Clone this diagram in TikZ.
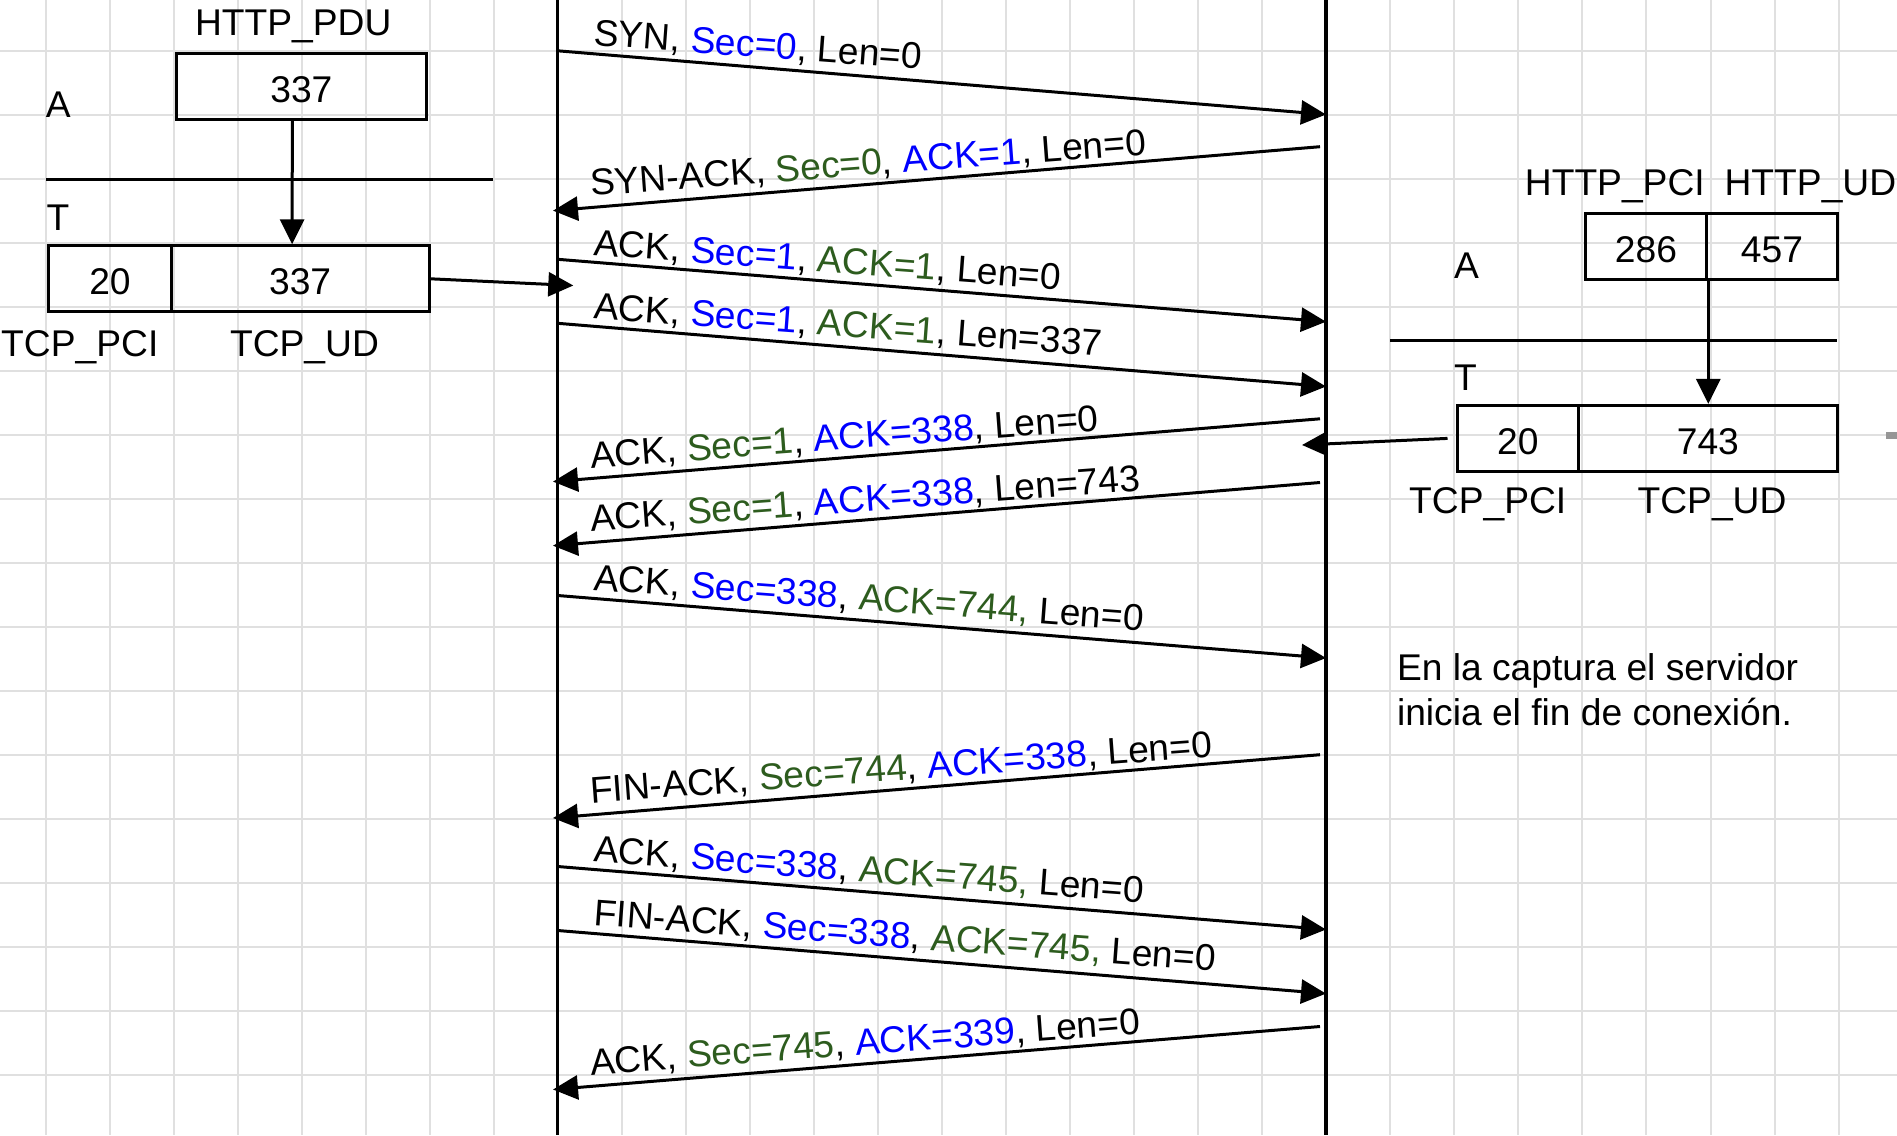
\documentclass[tikz,border=0pt]{standalone}
\usepackage{fontspec}
\setmainfont{Liberation Sans}
\usetikzlibrary{arrows.meta}
\definecolor{gridc}{RGB}{224,224,224}
\definecolor{myblue}{RGB}{0,0,255}
\definecolor{mygreen}{RGB}{45,92,30}
\definecolor{fragc}{RGB}{150,150,150}
\newcommand{\blu}[1]{\textcolor{myblue}{#1}}
\newcommand{\grn}[1]{\textcolor{mygreen}{#1}}
\begin{document}
\begin{tikzpicture}[x=1pt,y=-1pt,
  font=\fontsize{37.2pt}{44.8pt}\selectfont,
  lbl/.style={inner sep=0pt, anchor=base west},
  mlab/.style={inner sep=0pt, anchor=base west},
  cell/.style={draw, line width=3pt, inner sep=0pt, minimum height=66pt, text height=31.4pt, text depth=0pt},
  msg/.style={line width=3pt, -{Triangle[length=25pt,width=24pt]}},
  vmsg/.style={line width=3pt, -{Triangle[length=25pt,width=24pt]}},
  life/.style={line width=3.5pt},
  rulel/.style={line width=3pt},
  gridl/.style={draw=gridc, line width=2pt}]
\useasboundingbox (0,0) rectangle (1897,1135);
\fill[white] (0,0) rectangle (1897,1135);
% grid
\foreach \k in {0,...,28} {\draw[gridl] ({45.7+64.03*\k},0) -- ({45.7+64.03*\k},1135);}
\foreach \j in {0,...,16} {\draw[gridl] (0,{50.8+64.03*\j}) -- (1897,{50.8+64.03*\j});}
% fragment at right edge
\fill[fragc] (1886,432) rectangle (1897,439);
% lifelines
\coordinate (L0) at (557.7,0); \coordinate (L1) at (557.7,1135);
\coordinate (R0) at (1326,0); \coordinate (R1) at (1326,1135);
\draw[life] (L0) -- (L1);
\draw[life] (R0) -- (R1);
% left stack
\node[lbl, anchor=base] (hpdu) at (293.2,35) {HTTP\_PDU};
\node[cell, minimum width=249.3pt] (pdu) at (301.35,86.4) {337};
\node[lbl] (la) at (45.7,117) {A};
\coordinate (lr1) at (46,179.5); \coordinate (lr2) at (492.7,179.5);
\draw[rulel] (lr1) -- (lr2);
\node[lbl] (lt) at (46.4,230) {T};
\node[cell, minimum width=122.5pt] (lpci) at (109.95,278.8) {20};
\node[cell, minimum width=257.8pt] (lud) at (300.1,278.8) {337};
\node[lbl, anchor=base] (ltpci) at (79.8,356) {TCP\_PCI};
\node[lbl, anchor=base] (ltud) at (304.5,356) {TCP\_UD};
\draw[vmsg] ([xshift=-9pt]pdu.south) -- ([xshift=-8pt]lud.north);
\coordinate (lx) at (573.3,285.5);
\draw[vmsg] (lud.east) -- (lx);
% right stack
\node[lbl] (hpci) at (1524.7,195) {HTTP\_PCI};
\node[lbl] (hud) at (1724.4,195) {HTTP\_UD};
\node[cell, minimum width=121.8pt, minimum height=65.7pt] (rhpci) at (1645.9,246.55) {286};
\node[cell, minimum width=130.2pt, minimum height=65.7pt] (rhud) at (1771.9,246.55) {457};
\node[lbl] (ra) at (1454,278) {A};
\coordinate (rr1) at (1390,340); \coordinate (rr2) at (1836.6,340);
\draw[rulel] (rr1) -- (rr2);
\node[lbl] (rt) at (1454,390) {T};
\node[cell, minimum width=121.7pt] (rpci) at (1517.85,438.4) {20};
\node[cell, minimum width=258.3pt] (rud) at (1707.85,438.4) {743};
\node[lbl, anchor=base] (rtpci) at (1487.7,513) {TCP\_PCI};
\node[lbl, anchor=base] (rtud) at (1712,513) {TCP\_UD};
\draw[vmsg] (rhpci.south east) -- (rhpci.south east |- rud.north);
\coordinate (rx) at (1302,445);
\draw[vmsg] ([xshift=-8pt]rpci.west) -- (rx);
% messages
\coordinate (m1s) at (557.7,50.8);  \coordinate (m1e) at (1326,114.5);
\coordinate (m2s) at (1320,146.7);  \coordinate (m2e) at (553,210.7);
\coordinate (m3s) at (557.7,259.3); \coordinate (m3e) at (1326,321.7);
\coordinate (m4s) at (557.7,323.3); \coordinate (m4e) at (1326,386.5);
\coordinate (m5s) at (1320,418.8);  \coordinate (m5e) at (553,481.6);
\coordinate (m6s) at (1320,482.5);  \coordinate (m6e) at (553,545.7);
\coordinate (m7s) at (557.7,595.5); \coordinate (m7e) at (1326,658);
\coordinate (m8s) at (1320,754.7);  \coordinate (m8e) at (553,818);
\coordinate (m9s) at (557.7,866.5); \coordinate (m9e) at (1326,929.5);
\coordinate (m10s) at (557.7,930.5); \coordinate (m10e) at (1326,993.6);
\coordinate (m11s) at (1320,1026.5); \coordinate (m11e) at (553,1089.5);
\foreach \i in {1,...,11} {\draw[msg] (m\i s) -- (m\i e);}
\node[mlab, rotate=-4.25] (t1) at (593,45) {SYN, \blu{Sec=0}, Len=0};
\node[mlab, rotate=4.25] (t2) at (591,196) {SYN-ACK, \grn{Sec=0}, \blu{ACK=1}, Len=0};
\node[mlab, rotate=-4.25] (t3) at (593,255) {ACK, \blu{Sec=1}, \grn{ACK=1}, Len=0};
\node[mlab, rotate=-4.25] (t4) at (593,318.3) {ACK, \blu{Sec=1}, \grn{ACK=1}, Len=337};
\node[mlab, rotate=4.25] (t5) at (591,468.3) {ACK, \grn{Sec=1}, \blu{ACK=338}, Len=0};
\node[mlab, rotate=4.25] (t6) at (591,531.7) {ACK, \grn{Sec=1}, \blu{ACK=338}, Len=743};
\node[mlab, rotate=-4.25] (t7) at (593,590) {ACK, \blu{Sec=338}, \grn{ACK=744,} Len=0};
\node[mlab, rotate=4.25] (t8) at (591,803.3) {FIN-ACK, \grn{Sec=744}, \blu{ACK=338}, Len=0};
\node[mlab, rotate=-4.25] (t9) at (593,861.7) {ACK, \blu{Sec=338}, \grn{ACK=745,} Len=0};
\node[mlab, rotate=-4.25] (t10) at (593,925) {FIN-ACK, \blu{Sec=338}, \grn{ACK=745,} Len=0};
\node[mlab, rotate=4.25] (t11) at (591,1075) {ACK, \grn{Sec=745}, \blu{ACK=339}, Len=0};
% note
\node[lbl] (note1) at (1396.8,680) {En la captura el servidor};
\node[lbl] (note2) at (1396.8,725) {inicia el fin de conexión.};
\end{tikzpicture}
\end{document}
